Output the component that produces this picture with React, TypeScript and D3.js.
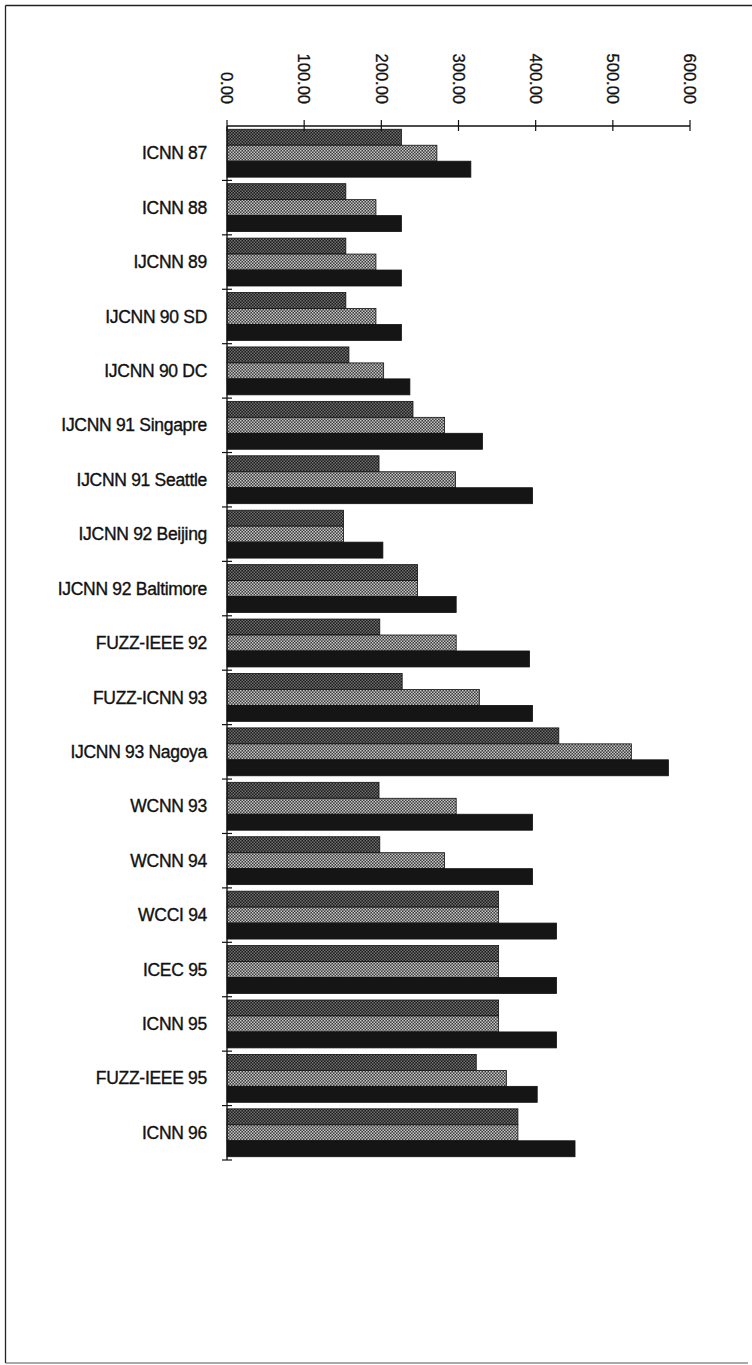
import React from "react";
import * as d3 from "d3";

const categories = [
  "ICNN 87", "ICNN 88", "IJCNN 89", "IJCNN 90 SD", "IJCNN 90 DC",
  "IJCNN 91 Singapre", "IJCNN 91 Seattle", "IJCNN 92 Beijing", "IJCNN 92 Baltimore",
  "FUZZ-IEEE 92", "FUZZ-ICNN 93", "IJCNN 93 Nagoya", "WCNN 93", "WCNN 94",
  "WCCI 94", "ICEC 95", "ICNN 95", "FUZZ-IEEE 95", "ICNN 96",
];
const series1 = [226, 154, 154, 154, 158, 241, 197, 151, 247, 198, 227, 430, 197, 198, 352, 352, 352, 323, 377];
const series2 = [272, 193, 193, 193, 203, 282, 296, 151, 247, 297, 327, 524, 297, 282, 352, 352, 352, 362, 377];
const series3 = [316, 226, 226, 226, 237, 331, 396, 202, 297, 392, 396, 572, 396, 396, 427, 427, 427, 402, 451];
const tickValues = [0, 100, 200, 300, 400, 500, 600];

const W = 752;
const H = 1365;

export default function App() {
  const x = d3.scaleLinear().domain([0, 600]).range([227, 690]);
  const y = d3.scaleBand<string>().domain(categories).range([126, 1160]).paddingInner(0.12).paddingOuter(0.06);
  const sub = d3.scaleBand<number>().domain([0, 1, 2]).range([0, y.bandwidth()]);
  const step = y.step();
  const gap = (step - y.bandwidth()) / 2;
  const fmt = d3.format(".2f");
  const series = [series1, series2, series3];
  const fills = ["url(#patDark)", "url(#patLight)", "#151515"];
  const axisY = 126;
  const x0 = x(0);
  const font = "'Liberation Sans', Arial, sans-serif";

  return (
    <svg width={W} height={H} style={{ position: "absolute", left: 0, top: 0, background: "#fff" }}>
      <defs>
        <pattern id="patDark" width="3" height="3" patternUnits="userSpaceOnUse">
          <rect width="3" height="3" fill="#1c1c1c" />
          <rect x="0" y="0" width="1.5" height="1.5" fill="#707070" />
          <rect x="1.5" y="1.5" width="1.5" height="1.5" fill="#707070" />
        </pattern>
        <pattern id="patLight" width="3" height="3" patternUnits="userSpaceOnUse">
          <rect width="3" height="3" fill="#3a3a3a" />
          <rect x="0" y="0" width="1.5" height="1.5" fill="#c8c8c8" />
          <rect x="1.5" y="1.5" width="1.5" height="1.5" fill="#c8c8c8" />
        </pattern>
      </defs>

      {/* frame */}
      <line x1={5.5} y1={5.5} x2={W} y2={5.5} stroke="#222" strokeWidth={1.3} />
      <line x1={5.5} y1={5.5} x2={5.5} y2={1363} stroke="#222" strokeWidth={1.3} />
      <line x1={5.5} y1={1363} x2={W - 4} y2={1363} stroke="#555" strokeWidth={1} />

      {/* bars */}
      {categories.map((c, i) => (
        <g key={c}>
          {series.map((s, k) => (
            <rect
              key={k}
              x={x0}
              y={(y(c) as number) + (sub(k) as number)}
              width={x(s[i]) - x0}
              height={sub.bandwidth()}
              fill={fills[k]}
              stroke="#111"
              strokeWidth={0.8}
            />
          ))}
          <text
            x={207}
            y={(y(c) as number) + y.bandwidth() / 2}
            dy="0.35em"
            textAnchor="end"
            fontFamily={font}
            fontSize={17.5}
            fill="#111"
            stroke="#111"
            strokeWidth={0.35}
            letterSpacing={-0.3}
          >
            {c}
          </text>
        </g>
      ))}

      {/* value axis (top) */}
      <line x1={x0} y1={axisY} x2={x(600)} y2={axisY} stroke="#111" strokeWidth={1.3} />
      {tickValues.map((t) => (
        <g key={t}>
          <line x1={x(t)} y1={axisY - 6} x2={x(t)} y2={axisY + 5} stroke="#111" strokeWidth={1.2} />
          <text
            transform={`translate(${x(t)},104) rotate(90)`}
            textAnchor="end"
            dy="0.35em"
            fontFamily={font}
            fontSize={16.5}
            fill="#111"
            stroke="#111"
            strokeWidth={0.35}
          >
            {fmt(t)}
          </text>
        </g>
      ))}

      {/* category axis */}
      <line x1={x0} y1={axisY} x2={x0} y2={1160} stroke="#111" strokeWidth={1.3} />
      {categories.map((c) => {
        const yy = (y(c) as number) + y.bandwidth() + gap;
        return <line key={c} x1={x0 - 5} y1={yy} x2={x0 + 5} y2={yy} stroke="#111" strokeWidth={1.2} />;
      })}
    </svg>
  );
}
